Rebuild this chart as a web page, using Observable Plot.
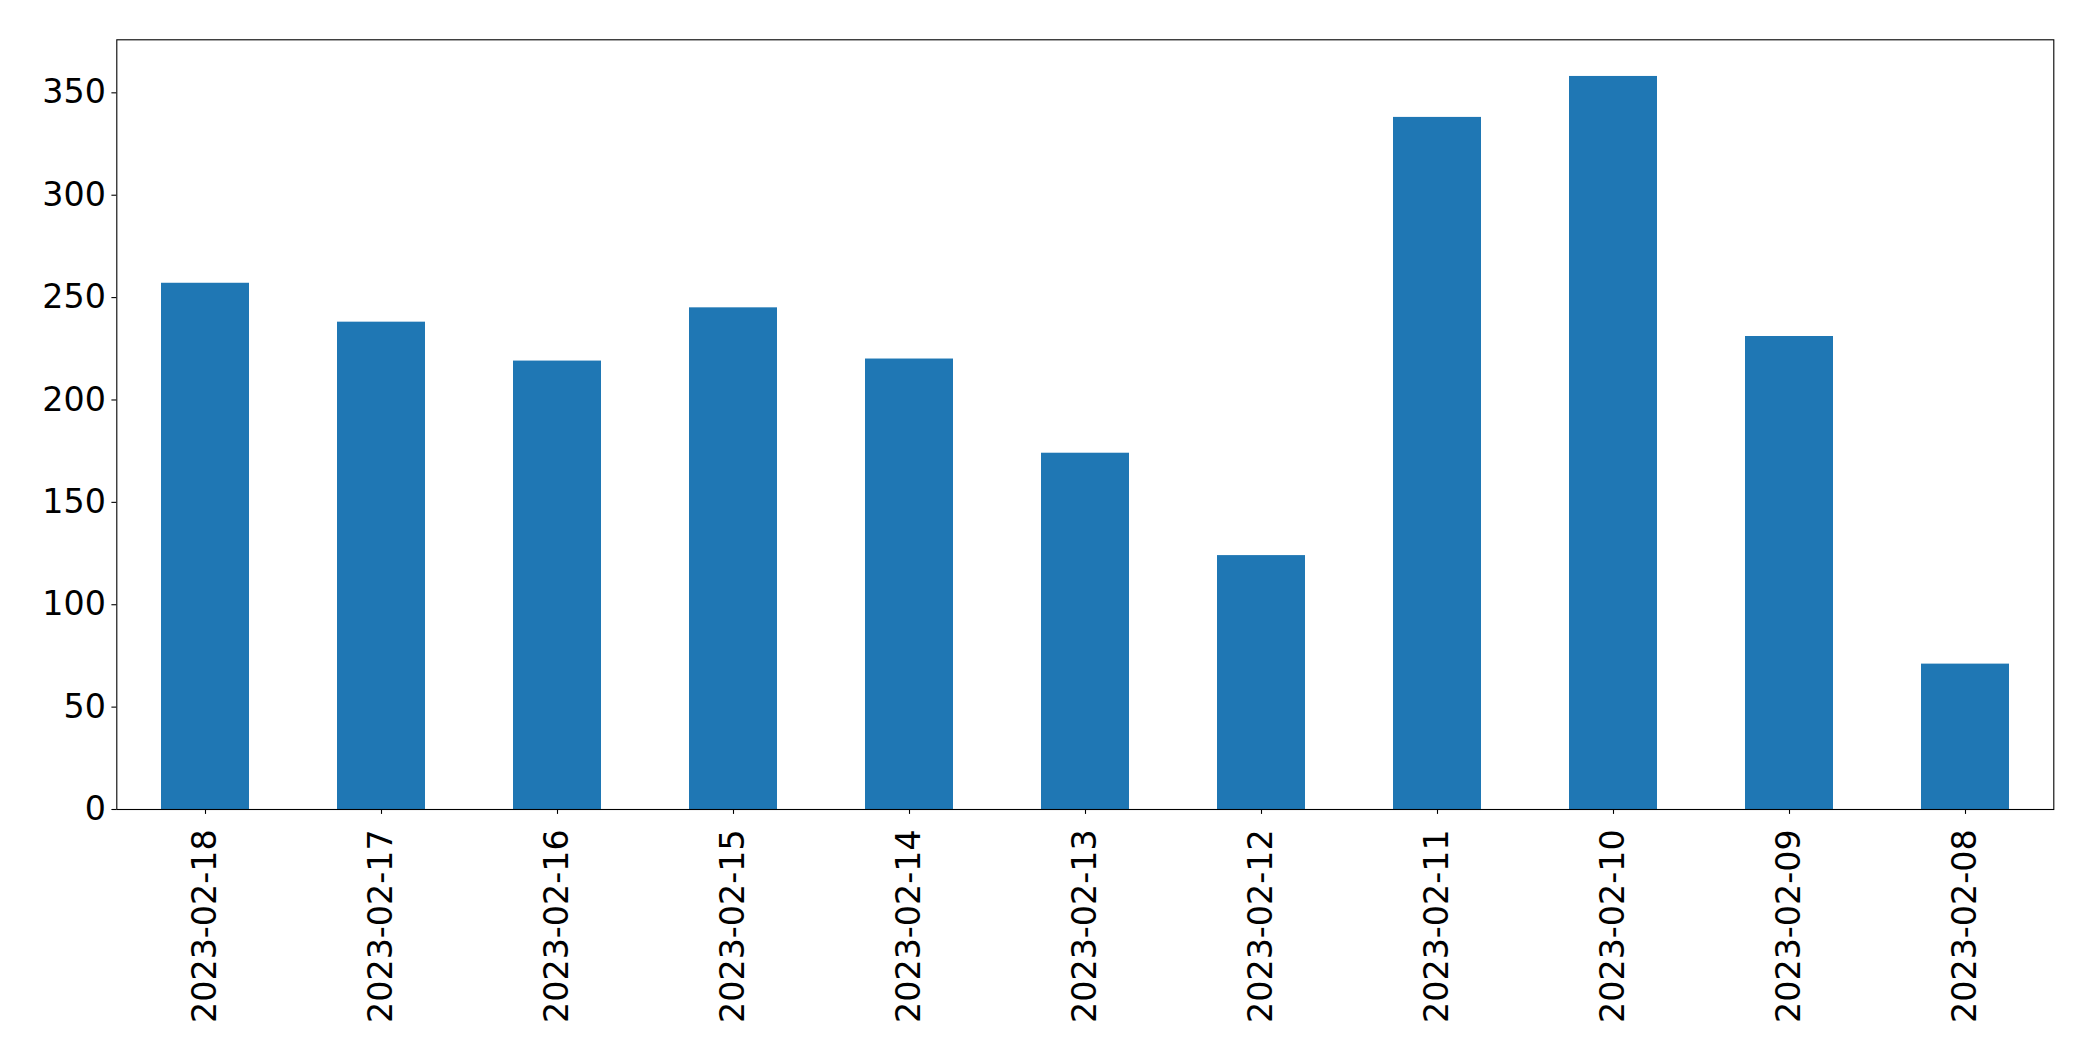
<!DOCTYPE html>
<html>
<head>
<meta charset="utf-8">
<script src="https://cdn.jsdelivr.net/npm/d3@7"></script>
<script src="https://cdn.jsdelivr.net/npm/@observablehq/plot@0.6"></script>
<style>
  html, body { margin: 0; padding: 0; background: #fff; }
  #chart svg { display: block; }
</style>
</head>
<body>
<div id="chart"></div>
<script>
const dates = ["2023-02-18", "2023-02-17", "2023-02-16", "2023-02-15", "2023-02-14", "2023-02-13", "2023-02-12", "2023-02-11", "2023-02-10", "2023-02-09", "2023-02-08"];
const counts = [257, 238, 219, 245, 220, 174, 124, 338, 358, 231, 71];
const yTicks = [0, 50, 100, 150, 200, 250, 300, 350];

const data = dates.map((d, i) => ({date: d, count: counts[i]}));
const yMax = d3.max(counts) * 1.05;

const chart = Plot.plot({
  width: 2093,
  height: 1061,
  marginLeft: 116.3,
  marginRight: 39.7,
  marginTop: 39.3,
  marginBottom: 252,
  style: {fontFamily: "DejaVu Sans", fontSize: "33.3px", color: "black", background: "white"},
  x: {domain: dates, paddingInner: 0.5, paddingOuter: 0.25, align: 0.5},
  y: {domain: [0, yMax]},
  marks: [
    Plot.barY(data, {x: "date", y: "count", fill: "#1f77b4"}),
    Plot.axisX({tickRotate: -90, tickSize: 4.9, tickPadding: 15, label: null, strokeWidth: 1.1, fontSize: 33.3}),
    Plot.axisY({ticks: yTicks, tickSize: 4.9, tickPadding: 6, label: null, strokeWidth: 1.1, fontSize: 33.3, tickFormat: d3.format("d")}),
    Plot.frame({stroke: "black", strokeWidth: 1.1})
  ]
});
document.getElementById("chart").appendChild(chart);
</script>
</body>
</html>
